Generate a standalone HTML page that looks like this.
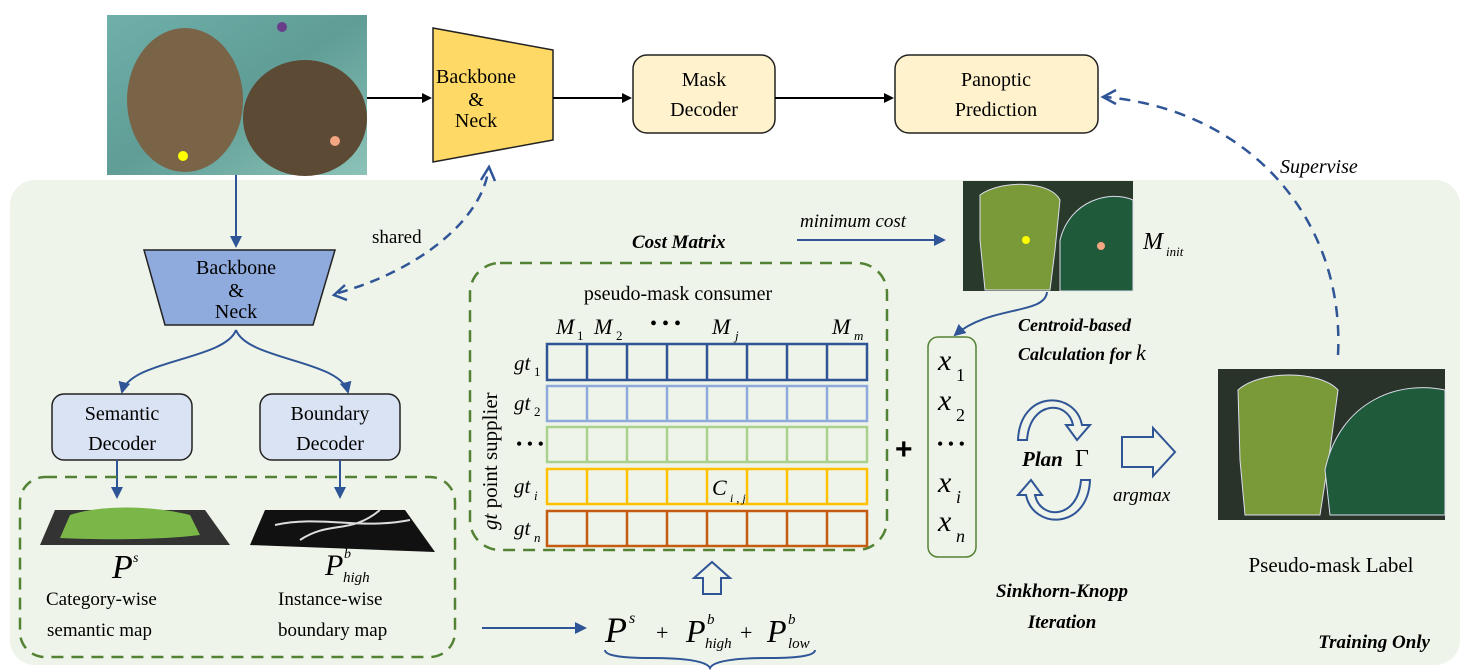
<!DOCTYPE html>
<html><head><meta charset="utf-8"><style>
body{margin:0;background:#fff;}
svg{display:block;font-family:"Liberation Serif",serif;}
</style></head><body>
<svg width="1467" height="672" viewBox="0 0 1467 672" xmlns="http://www.w3.org/2000/svg">
<defs>
<marker id="a" markerWidth="10" markerHeight="10" refX="8" refY="5" orient="auto" markerUnits="userSpaceOnUse"><path d="M0,0 L10,5 L0,10 z" fill="#000"/></marker>
<marker id="b" markerWidth="12" markerHeight="12" refX="10" refY="6" orient="auto" markerUnits="userSpaceOnUse"><path d="M0,0 L12,6 L0,12 z" fill="#2f5597"/></marker>
<linearGradient id="cow" x1="0" y1="0" x2="1" y2="1"><stop offset="0" stop-color="#6fb0aa"/><stop offset="0.5" stop-color="#5f9d96"/><stop offset="1" stop-color="#8cc3b8"/></linearGradient>
</defs>
<rect x="10" y="180" width="1450" height="485" rx="25" fill="#eef4e9"/>
<rect x="107" y="15" width="260" height="160" fill="url(#cow)"/>
<ellipse cx="185" cy="100" rx="58" ry="72" fill="#7a6448"/>
<ellipse cx="305" cy="118" rx="62" ry="58" fill="#5c4a34"/>
<circle cx="282" cy="27" r="5" fill="#6a3d8a"/>
<circle cx="183" cy="156" r="5" fill="#ffff00"/>
<circle cx="335" cy="141" r="5" fill="#f4a582"/>
<line x1="367" y1="98" x2="430" y2="98" stroke="#000" stroke-width="2" marker-end="url(#a)"/>
<polygon points="433,28 553,50 553,140 433,162" fill="#ffd966" stroke="#222" stroke-width="1.5"/>
<text x="476" y="83" font-size="20" text-anchor="middle">Backbone</text>
<text x="476" y="106" font-size="20" text-anchor="middle">&amp;</text>
<text x="476" y="127" font-size="20" text-anchor="middle">Neck</text>
<line x1="553" y1="98" x2="630" y2="98" stroke="#000" stroke-width="2" marker-end="url(#a)"/>
<rect x="633" y="55" width="142" height="78" rx="14" fill="#fff2cc" stroke="#222" stroke-width="1.5"/>
<text x="704" y="86" font-size="20" text-anchor="middle">Mask</text>
<text x="704" y="116" font-size="20" text-anchor="middle">Decoder</text>
<line x1="775" y1="98" x2="892" y2="98" stroke="#000" stroke-width="2" marker-end="url(#a)"/>
<rect x="895" y="55" width="203" height="78" rx="14" fill="#fff2cc" stroke="#222" stroke-width="1.5"/>
<text x="996" y="86" font-size="20" text-anchor="middle">Panoptic</text>
<text x="996" y="116" font-size="20" text-anchor="middle">Prediction</text>
<path d="M1338,355 C1345,220 1250,110 1105,97" fill="none" stroke="#2f5597" stroke-width="2.5" stroke-dasharray="11,8"/>
<path d="M1116,90 L1103,97 L1116,104" fill="none" stroke="#2f5597" stroke-width="2.5"/>
<text x="1280" y="173" font-size="20" font-style="italic">Supervise</text>
<line x1="236" y1="175" x2="236" y2="246" stroke="#2f5597" stroke-width="2" marker-end="url(#b)"/>
<polygon points="144,250 335,250 313,325 165,325" fill="#8faadc" stroke="#222" stroke-width="1.5"/>
<text x="236" y="274" font-size="20" text-anchor="middle">Backbone</text>
<text x="236" y="297" font-size="20" text-anchor="middle">&amp;</text>
<text x="236" y="318" font-size="20" text-anchor="middle">Neck</text>
<path d="M338,293 C420,270 480,220 488,172" fill="none" stroke="#2f5597" stroke-width="2.5" stroke-dasharray="10,7"/>
<path d="M345,285 L334,295 L347,300" fill="none" stroke="#2f5597" stroke-width="2.5"/>
<path d="M481,180 L489,167 L495,181" fill="none" stroke="#2f5597" stroke-width="2.5"/>
<text x="372" y="243" font-size="19">shared</text>
<path d="M236,330 C225,360 130,360 122,392" fill="none" stroke="#2f5597" stroke-width="2" marker-end="url(#b)"/>
<path d="M236,330 C247,360 340,360 348,392" fill="none" stroke="#2f5597" stroke-width="2" marker-end="url(#b)"/>
<rect x="52" y="394" width="140" height="66" rx="12" fill="#dae3f3" stroke="#222" stroke-width="1.5"/>
<text x="122" y="420" font-size="20" text-anchor="middle">Semantic</text>
<text x="122" y="450" font-size="20" text-anchor="middle">Decoder</text>
<rect x="260" y="394" width="140" height="66" rx="12" fill="#dae3f3" stroke="#222" stroke-width="1.5"/>
<text x="330" y="420" font-size="20" text-anchor="middle">Boundary</text>
<text x="330" y="450" font-size="20" text-anchor="middle">Decoder</text>
<line x1="117" y1="460" x2="117" y2="497" stroke="#2f5597" stroke-width="2" marker-end="url(#b)"/>
<line x1="340" y1="460" x2="340" y2="497" stroke="#2f5597" stroke-width="2" marker-end="url(#b)"/>
<rect x="20" y="477" width="435" height="180" rx="25" fill="none" stroke="#548235" stroke-width="2.5" stroke-dasharray="12,8"/>
<polygon points="55,510 205,510 230,545 40,545" fill="#333"/>
<path d="M70,515 C100,505 150,505 190,515 L200,535 C160,540 100,540 60,538 z" fill="#7ab648"/>
<polygon points="265,510 405,510 435,552 250,545" fill="#111"/>
<path d="M275,525 C320,515 360,530 410,520 M300,540 C330,520 350,535 380,510" stroke="#ddd" stroke-width="2" fill="none"/>
<text x="112" y="578" font-size="34" font-style="italic">P</text>
<text x="133" y="562" font-size="14" font-style="italic">s</text>
<text x="46" y="605" font-size="19">Category-wise</text>
<text x="47" y="636" font-size="19">semantic map</text>
<text x="325" y="575" font-size="30" font-style="italic">P</text>
<text x="344" y="558" font-size="14" font-style="italic">b</text>
<text x="343" y="582" font-size="15" font-style="italic">high</text>
<text x="278" y="605" font-size="19">Instance-wise</text>
<text x="278" y="636" font-size="19">boundary map</text>
<line x1="482" y1="628" x2="585" y2="628" stroke="#2f5597" stroke-width="2" marker-end="url(#b)"/>
<text x="605" y="642" font-size="36" font-style="italic">P</text>
<text x="629" y="623" font-size="16" font-style="italic">s</text>
<text x="656" y="640" font-size="22">+</text>
<text x="686" y="642" font-size="32" font-style="italic">P</text>
<text x="707" y="624" font-size="15" font-style="italic">b</text>
<text x="705" y="648" font-size="15" font-style="italic">high</text>
<text x="740" y="640" font-size="22">+</text>
<text x="767" y="642" font-size="32" font-style="italic">P</text>
<text x="788" y="624" font-size="15" font-style="italic">b</text>
<text x="788" y="648" font-size="15" font-style="italic">low</text>
<path d="M605,650 Q605,658 650,658 Q705,658 710,668 Q715,658 770,658 Q815,658 815,650" fill="none" stroke="#2f5597" stroke-width="2"/>
<path d="M703,594 L703,578 L694,578 L712,562 L730,578 L721,578 L721,594 z" fill="none" stroke="#2f5597" stroke-width="2"/>
<rect x="470" y="263" width="417" height="287" rx="30" fill="none" stroke="#548235" stroke-width="2.5" stroke-dasharray="12,8"/>
<text x="678" y="300" font-size="20" text-anchor="middle">pseudo-mask consumer</text>
<text x="556" y="334" font-size="22" font-style="italic">M</text><text x="577" y="340" font-size="13">1</text>
<text x="594" y="334" font-size="22" font-style="italic">M</text><text x="616" y="340" font-size="13">2</text>
<text x="650" y="330" font-size="20">• • •</text>
<text x="712" y="334" font-size="22" font-style="italic">M</text><text x="735" y="340" font-size="13" font-style="italic">j</text>
<text x="832" y="334" font-size="22" font-style="italic">M</text><text x="854" y="340" font-size="13" font-style="italic">m</text>
<g fill="none" stroke-width="2.5">
<g stroke="#2f5597"><rect x="547" y="344" width="320" height="36"/><path d="M587,344v36M627,344v36M667,344v36M707,344v36M747,344v36M787,344v36M827,344v36"/></g>
<g stroke="#8eaadb"><rect x="547" y="386" width="320" height="35"/><path d="M587,386v35M627,386v35M667,386v35M707,386v35M747,386v35M787,386v35M827,386v35"/></g>
<g stroke="#a9d18e"><rect x="547" y="427" width="320" height="35"/><path d="M587,427v35M627,427v35M667,427v35M707,427v35M747,427v35M787,427v35M827,427v35"/></g>
<g stroke="#ffc000"><rect x="547" y="469" width="320" height="35"/><path d="M587,469v35M627,469v35M667,469v35M707,469v35M747,469v35M787,469v35M827,469v35"/></g>
<g stroke="#c55a11"><rect x="547" y="511" width="320" height="35"/><path d="M587,511v35M627,511v35M667,511v35M707,511v35M747,511v35M787,511v35M827,511v35"/></g>
</g>
<text x="712" y="495" font-size="22" font-style="italic">C</text><text x="730" y="502" font-size="12" font-style="italic">i , j</text>
<g font-size="21" font-style="italic">
<text x="514" y="370">gt</text><text x="534" y="376" font-size="13" font-style="normal">1</text>
<text x="514" y="410">gt</text><text x="534" y="416" font-size="13" font-style="normal">2</text>
<text x="516" y="450" font-style="normal" font-size="18">• • •</text>
<text x="514" y="493">gt</text><text x="534" y="500" font-size="13">i</text>
<text x="514" y="535">gt</text><text x="534" y="542" font-size="13">n</text>
</g>
<text transform="translate(497,530) rotate(-90)" font-size="21"><tspan font-style="italic">gt</tspan> point supplier</text>
<text x="895" y="459" font-size="30" font-weight="bold" font-family="Liberation Sans,sans-serif">+</text>
<text x="632" y="248" font-size="19" font-style="italic" font-weight="bold">Cost Matrix</text>
<text x="800" y="227" font-size="19" font-style="italic">minimum cost</text>
<line x1="797" y1="240" x2="944" y2="240" stroke="#2f5597" stroke-width="2" marker-end="url(#b)"/>
<rect x="963" y="181" width="170" height="110" fill="#2a3a2a"/>
<path d="M980,195 C1000,180 1050,180 1060,200 L1055,250 L1050,290 L985,290 L980,240 z" fill="#7a9a3a" stroke="#dde" stroke-width="1"/>
<path d="M1060,240 C1070,200 1110,190 1133,200 L1133,291 L1060,291 z" fill="#1f5a3a" stroke="#dde" stroke-width="1"/>
<circle cx="1026" cy="240" r="4" fill="#ffff00"/>
<circle cx="1101" cy="246" r="4" fill="#f4a582"/>
<text x="1143" y="249" font-size="24" font-style="italic">M</text><text x="1166" y="256" font-size="13" font-style="italic">init</text>
<path d="M1047,292 C1045,315 990,305 955,335" fill="none" stroke="#2f5597" stroke-width="2" marker-end="url(#b)"/>
<g font-size="18" font-style="italic" font-weight="bold">
<text x="1018" y="331">Centroid-based</text>
<text x="1018" y="360">Calculation for <tspan font-size="22" font-weight="normal">k</tspan></text>
</g>
<rect x="928" y="337" width="48" height="220" rx="10" fill="none" stroke="#548235" stroke-width="1.5"/>
<g font-size="30" font-style="italic">
<text x="938" y="370">x</text><text x="956" y="381" font-size="18" font-style="normal">1</text>
<text x="938" y="410">x</text><text x="956" y="421" font-size="18" font-style="normal">2</text>
<text x="937" y="450" font-size="18" font-style="normal">• • •</text>
<text x="938" y="492">x</text><text x="956" y="503" font-size="18">i</text>
<text x="938" y="531">x</text><text x="956" y="542" font-size="18">n</text>
</g>
<path d="M1018,440 C1020,390 1075,390 1082,425 L1090,425 L1077,440 L1066,425 L1073,425 C1068,400 1030,400 1027,440 z" fill="none" stroke="#2f5597" stroke-width="2"/>
<path d="M1090,480 C1088,530 1033,530 1026,495 L1018,495 L1031,480 L1042,495 L1035,495 C1040,520 1078,520 1081,480 z" fill="none" stroke="#2f5597" stroke-width="2"/>
<text x="1022" y="466" font-size="21" font-style="italic" font-weight="bold">Plan</text>
<text x="1075" y="466" font-size="24">Γ</text>
<path d="M1122,437 L1153,437 L1153,428 L1175,452 L1153,476 L1153,467 L1122,467 z" fill="none" stroke="#2f5597" stroke-width="2"/>
<text x="1113" y="501" font-size="19" font-style="italic">argmax</text>
<g font-size="19" font-style="italic" font-weight="bold" text-anchor="middle">
<text x="1062" y="597">Sinkhorn-Knopp</text>
<text x="1062" y="628">Iteration</text>
</g>
<rect x="1218" y="369" width="227" height="151" fill="#2a332a"/>
<path d="M1238,390 C1260,370 1320,370 1338,390 L1330,450 L1320,515 L1245,515 L1240,460 z" fill="#7a9a3a" stroke="#dde" stroke-width="1"/>
<path d="M1325,470 C1340,400 1400,380 1445,390 L1445,515 L1330,515 z" fill="#1f5a3a" stroke="#dde" stroke-width="1"/>
<text x="1331" y="572" font-size="21" text-anchor="middle">Pseudo-mask Label</text>
<text x="1430" y="648" font-size="19" font-style="italic" font-weight="bold" text-anchor="end">Training Only</text>
</svg>
</body></html>
